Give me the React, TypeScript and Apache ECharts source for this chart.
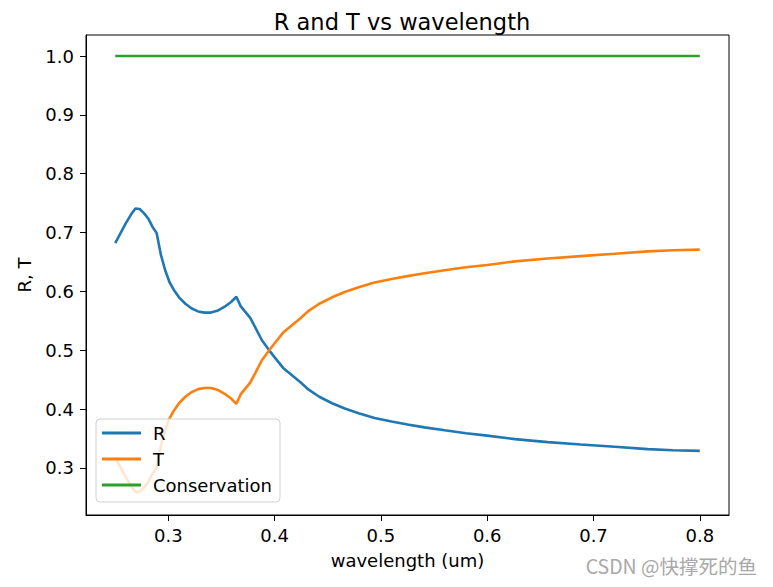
import React, { useEffect, useRef } from "react";
import * as echarts from "echarts";

const wavelength = [
  0.25, 0.255, 0.26, 0.265, 0.269, 0.273, 0.277, 0.281, 0.285, 0.289,
  0.293, 0.297, 0.301, 0.305, 0.31, 0.316, 0.322, 0.328, 0.334, 0.34,
  0.346, 0.353, 0.359, 0.364, 0.368, 0.372, 0.377, 0.382, 0.388, 0.394,
  0.4, 0.408, 0.416, 0.424, 0.432, 0.442, 0.454, 0.466, 0.479, 0.494,
  0.51, 0.525, 0.541, 0.56, 0.58, 0.6, 0.626, 0.657, 0.688, 0.72,
  0.751, 0.775, 0.8,
];
const R = [
  0.682, 0.699, 0.716, 0.731, 0.741, 0.74, 0.733, 0.724, 0.71, 0.699,
  0.662, 0.636, 0.616, 0.603, 0.59, 0.579, 0.571, 0.566, 0.564, 0.564,
  0.567, 0.574, 0.582, 0.591, 0.575, 0.566, 0.555, 0.538, 0.517, 0.502,
  0.488, 0.47, 0.458, 0.446, 0.433, 0.421, 0.41, 0.401, 0.393, 0.385,
  0.379, 0.374, 0.369, 0.364, 0.359, 0.355, 0.349, 0.344, 0.34, 0.336,
  0.332, 0.33, 0.329,
];
const T = [
  0.318, 0.301, 0.284, 0.269, 0.259, 0.26, 0.267, 0.276, 0.29, 0.301,
  0.338, 0.364, 0.384, 0.397, 0.41, 0.421, 0.429, 0.434, 0.436, 0.436,
  0.433, 0.426, 0.418, 0.409, 0.425, 0.434, 0.445, 0.462, 0.483, 0.498,
  0.512, 0.53, 0.542, 0.554, 0.567, 0.579, 0.59, 0.599, 0.607, 0.615,
  0.621, 0.626, 0.631, 0.636, 0.641, 0.645, 0.651, 0.656, 0.66, 0.664,
  0.668, 0.67, 0.671,
];
const conservation = [
  1, 1, 1, 1, 1, 1, 1, 1, 1, 1,
  1, 1, 1, 1, 1, 1, 1, 1, 1, 1,
  1, 1, 1, 1, 1, 1, 1, 1, 1, 1,
  1, 1, 1, 1, 1, 1, 1, 1, 1, 1,
  1, 1, 1, 1, 1, 1, 1, 1, 1, 1,
  1, 1, 1,
];
const xTicks = [0.3, 0.4, 0.5, 0.6, 0.7, 0.8];
const yTicks = [0.3, 0.4, 0.5, 0.6, 0.7, 0.8, 0.9, 1.0];

const FONT = "DejaVu Sans";

export default function App() {
  const ref = useRef<HTMLDivElement>(null);
  useEffect(() => {
    if (!ref.current) return;
    const chart = echarts.init(ref.current, null, { renderer: "svg" });
    const pairs = (ys: number[]) => wavelength.map((x, i) => [x, ys[i]]);
    chart.setOption({
      animation: false,
      backgroundColor: "#fff",
      title: {
        text: "R and T vs wavelength",
        left: 397,
        textAlign: "center",
        top: 5,
        textStyle: { fontFamily: FONT, fontSize: 22.5, fontWeight: "normal", color: "#000" },
      },
      grid: {
        left: 86,
        top: 35,
        width: 643,
        height: 480,
        show: true,
        borderColor: "#000",
        borderWidth: 1,
        backgroundColor: "transparent",
      },
      legend: {
        orient: "vertical",
        left: 96,
        top: 419,
        icon: "rect",
        itemWidth: 39,
        itemHeight: 3,
        itemGap: 8,
        padding: [5, 8, 8, 6],
        backgroundColor: "rgba(255,255,255,0.8)",
        borderColor: "#d0d0d0",
        borderWidth: 1,
        borderRadius: 4,
        textStyle: { fontFamily: FONT, fontSize: 18, color: "#000", padding: [0, 0, 0, 7] },
        data: ["R", "T", "Conservation"],
      },
      xAxis: {
        type: "value",
        min: 0.2225,
        max: 0.8275,
        name: "wavelength (um)",
        nameLocation: "middle",
        nameGap: 36,
        nameTextStyle: { fontFamily: FONT, fontSize: 18, color: "#000" },
        axisLine: { show: true, onZero: false, lineStyle: { color: "#000", width: 1 } },
        axisTick: { show: true, inside: false, length: 6, customValues: xTicks, lineStyle: { color: "#000" } },
        axisLabel: {
          customValues: xTicks,
          fontFamily: FONT,
          fontSize: 18,
          color: "#000",
          margin: 11,
          formatter: (v: number) => v.toFixed(1),
        },
        splitLine: { show: false },
      },
      yAxis: {
        type: "value",
        min: 0.2201,
        max: 1.0357,
        name: "R, T",
        nameLocation: "middle",
        nameGap: 53,
        nameRotate: 90,
        nameTextStyle: { fontFamily: FONT, fontSize: 18, color: "#000" },
        axisLine: { show: true, onZero: false, lineStyle: { color: "#000", width: 1 } },
        axisTick: { show: true, inside: false, length: 6, customValues: yTicks, lineStyle: { color: "#000" } },
        axisLabel: {
          customValues: yTicks,
          fontFamily: FONT,
          fontSize: 18,
          color: "#000",
          margin: 12,
          formatter: (v: number) => v.toFixed(1),
        },
        splitLine: { show: false },
      },
      series: [
        {
          name: "R",
          type: "line",
          data: pairs(R),
          symbol: "none",
          lineStyle: { color: "#1f77b4", width: 2.6 },
          itemStyle: { color: "#1f77b4" },
        },
        {
          name: "T",
          type: "line",
          data: pairs(T),
          symbol: "none",
          lineStyle: { color: "#ff7f0e", width: 2.6 },
          itemStyle: { color: "#ff7f0e" },
        },
        {
          name: "Conservation",
          type: "line",
          data: pairs(conservation),
          symbol: "none",
          lineStyle: { color: "#2ca02c", width: 2.6 },
          itemStyle: { color: "#2ca02c" },
        },
      ],
      graphic: [
        {
          type: "text",
          right: 16,
          top: 556,
          style: {
            text: "CSDN @快撑死的鱼",
            fontFamily: "Noto Sans CJK SC",
            fontSize: 19.5,
            fill: "#a8a8a8",
          },
        },
      ],
    });
    return () => chart.dispose();
  }, []);
  return (
    <div
      ref={ref}
      style={{ position: "absolute", left: 0, top: 0, width: 773, height: 587 }}
    />
  );
}
